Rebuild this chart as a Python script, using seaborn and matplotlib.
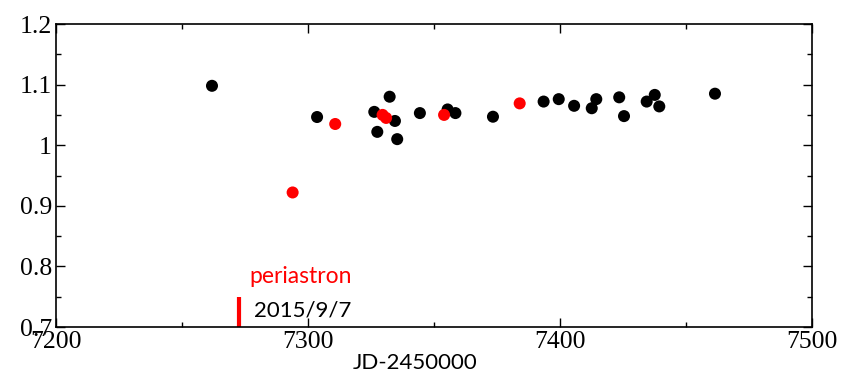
import matplotlib
matplotlib.use("Agg")
import matplotlib.pyplot as plt
import seaborn as sns
import pandas as pd
from matplotlib.ticker import MultipleLocator, FixedFormatter, FixedLocator

# Data
black_jd = [7261.9, 7303.6, 7326.3, 7327.5, 7332.4, 7334.5, 7335.4, 7344.4, 7355.4,
            7358.5, 7373.4, 7393.5, 7399.5, 7405.6, 7412.6, 7414.4, 7423.5, 7425.4,
            7434.4, 7437.6, 7439.4, 7461.5]
black_val = [1.098, 1.0465, 1.055, 1.022, 1.080, 1.040, 1.010, 1.053, 1.059,
             1.053, 1.047, 1.072, 1.076, 1.065, 1.061, 1.076, 1.079, 1.048,
             1.072, 1.083, 1.064, 1.085]
red_jd = [7293.9, 7310.8, 7329.6, 7331.0, 7354.0, 7384.0]
red_val = [0.922, 1.035, 1.050, 1.045, 1.050, 1.069]
periastron_jd = 7272.7
periastron_label = "periastron"
periastron_date = "2015/9/7"
x_ticks = [7200, 7300, 7400, 7500]
y_ticks = [0.7, 0.8, 0.9, 1.0, 1.1, 1.2]
y_tick_labels = ["0.7", "0.8", "0.9", "1", "1.1", "1.2"]

df = pd.DataFrame({
    "jd": black_jd + red_jd,
    "val": black_val + red_val,
    "grp": ["b"] * len(black_jd) + ["r"] * len(red_jd),
})

sns.set_style("ticks")
fig = plt.figure(figsize=(8.41, 3.73), dpi=100)
ax = fig.add_axes([56 / 841, 1 - 327 / 373, (812 - 56) / 841, (327 - 24) / 373])

sns.scatterplot(data=df, x="jd", y="val", hue="grp", palette={"b": "black", "r": "#ff0000"},
                s=75, linewidth=0, legend=False, ax=ax, zorder=3)

ax.plot([periastron_jd, periastron_jd], [0.70, 0.75], color="#ff0000", lw=3,
        solid_capstyle="butt", zorder=2)

txt_font = ["Lato", "DejaVu Sans"]
ax.text(7276.6, 0.784, periastron_label, color="#ff0000", fontsize=16.5,
        family=txt_font, va="center", ha="left")
ax.text(7278.6, 0.728, periastron_date, color="black", fontsize=16,
        family=txt_font, va="center", ha="left")

ax.set_xlim(7200, 7500)
ax.set_ylim(0.7, 1.2)
ax.xaxis.set_major_locator(FixedLocator(x_ticks))
ax.xaxis.set_minor_locator(MultipleLocator(50))
ax.yaxis.set_major_locator(FixedLocator(y_ticks))
ax.yaxis.set_major_formatter(FixedFormatter(y_tick_labels))
ax.yaxis.set_minor_locator(MultipleLocator(0.05))

ax.tick_params(which="both", direction="in", top=True, right=True, color="black",
               width=1.0)
ax.tick_params(which="major", length=6.5)
ax.tick_params(which="minor", length=3.6)
ax.tick_params(axis="x", which="major", pad=3)
ax.tick_params(axis="y", which="major", pad=3)
for lab in ax.get_xticklabels() + ax.get_yticklabels():
    lab.set_family(["Liberation Serif", "DejaVu Serif"])
    lab.set_fontsize(18.5)
    lab.set_color("black")

for sp in ax.spines.values():
    sp.set_visible(True)
    sp.set_color("black")
    sp.set_linewidth(1.2)

ax.set_xlabel("JD-2450000", family=txt_font, fontsize=16, color="black")
ax.xaxis.set_label_coords((415 - 56) / 756, -0.12)
ax.xaxis.label.set_va("center")
ax.set_ylabel("")

fig.savefig("out.png", dpi=100, facecolor="white")
